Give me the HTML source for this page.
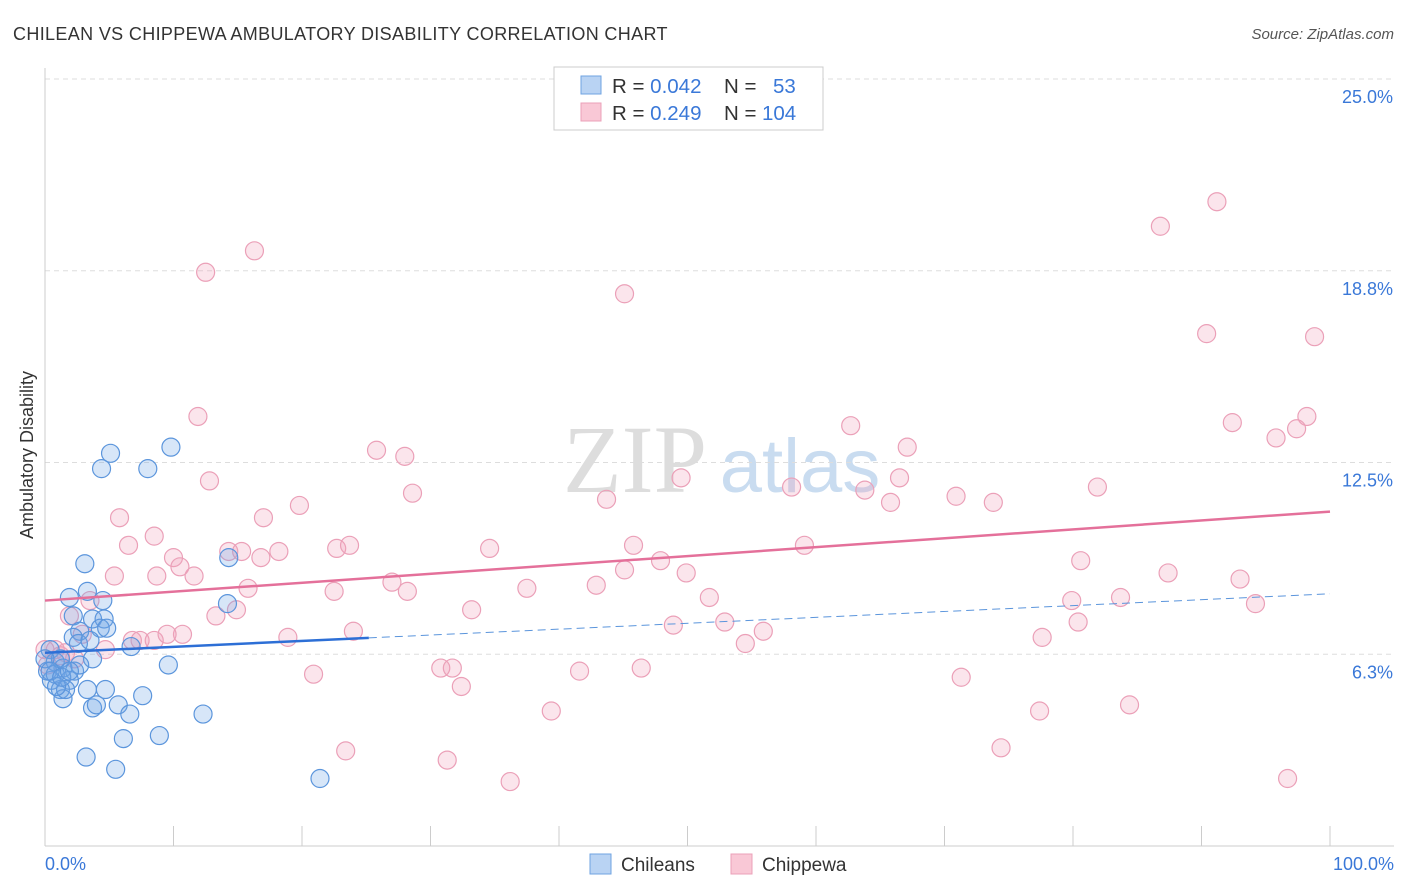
<!DOCTYPE html>
<html><head><meta charset="utf-8"><style>
body{margin:0;background:#fff;font-family:"Liberation Sans",sans-serif;}
svg{display:block}
</style></head><body>
<svg width="1406" height="892" xmlns="http://www.w3.org/2000/svg">
<text x="13" y="40" font-size="18" fill="#333" letter-spacing="0.35">CHILEAN VS CHIPPEWA AMBULATORY DISABILITY CORRELATION CHART</text>
<text x="1394" y="39" font-size="15" fill="#555" font-style="italic" text-anchor="end">Source: ZipAtlas.com</text>
<g>
<text x="635" y="492" font-size="96" font-family="Liberation Serif,serif" fill="#ddd" text-anchor="middle">ZIP</text>
<text x="800" y="492" font-size="76" fill="#c9dcf0" text-anchor="middle">atlas</text>
</g>
<g id="grid"></g>
<line x1="45" y1="68" x2="45" y2="846" stroke="#ccc"/>
<line x1="45" y1="846" x2="1394" y2="846" stroke="#ccc"/>
<g id="ticks"></g>
<text x="33" y="455" font-size="18" fill="#333" text-anchor="middle" transform="rotate(-90 33 455)">Ambulatory Disability</text>
<text x="45" y="870" font-size="18" fill="#3a78d8">0.0%</text>
<text x="1394" y="870" font-size="18" fill="#3a78d8" text-anchor="end">100.0%</text>
<g id="points"></g>
<g id="lines"></g>
<g>
<rect x="554" y="67" width="269" height="63" fill="#fff" stroke="#ccc"/>
<rect x="581" y="76" width="20" height="18" fill="#b9d3f3" stroke="#6fa3e2"/>
<rect x="581" y="103" width="20" height="18" fill="#f9c8d6" stroke="#eba0b8"/>
<text x="612" y="93" font-size="20.5" fill="#333">R = <tspan fill="#3a78d8">0.042</tspan><tspan x="724">N = </tspan><tspan x="773" fill="#3a78d8">53</tspan></text>
<text x="612" y="120" font-size="20.5" fill="#333">R = <tspan fill="#3a78d8">0.249</tspan><tspan x="724">N = </tspan><tspan x="762" fill="#3a78d8">104</tspan></text>
</g>
<g>
<rect x="590" y="854" width="21" height="20" fill="#b9d3f3" stroke="#6fa3e2"/>
<text x="621" y="871" font-size="19" fill="#333">Chileans</text>
<rect x="731" y="854" width="21" height="20" fill="#f9c8d6" stroke="#eba0b8"/>
<text x="762" y="871" font-size="19" fill="#333">Chippewa</text>
</g>
</svg>
<script>
const yTicks=[6.25,12.5,18.75,25];
const yTickLabels=["6.3%","12.5%","18.8%","25.0%"];
const xTicks=[0,10,20,30,40,50,60,70,80,90,100];
const blueX=[5.1,4.4,9.8,8.0,3.1,14.3,1.9,3.3,4.5,3.7,4.6,14.2,2.2,4.3,4.8,2.7,2.2,2.6,6.7,3.7,0.4,0.8,1.4,2.3,1.9,0.5,1.2,3.3,4.7,7.6,1.4,3.7,4.0,5.7,6.6,12.3,9.6,6.1,8.9,3.2,5.5,21.4,0.2,0.8,1.2,0.0,1.6,2.7,0.9,0.4,1.3,3.5,1.9];
const blueY=[12.8,12.3,13.0,12.3,9.2,9.4,8.1,8.3,8.0,7.4,7.4,7.9,7.5,7.1,7.1,7.0,6.8,6.6,6.5,6.1,6.4,6.0,5.8,5.7,5.4,5.4,5.1,5.1,5.1,4.9,4.8,4.5,4.6,4.6,4.3,4.3,5.9,3.5,3.6,2.9,2.5,2.2,5.7,5.6,6.1,6.1,5.1,5.9,5.2,5.7,5.5,6.7,5.7];
const pinkX=[16.3,12.5,45.1,86.8,91.2,90.4,98.8,11.9,92.4,98.2,97.4,95.8,62.7,67.1,25.8,28.0,12.8,28.6,19.8,17.0,5.8,43.7,49.5,58.1,63.8,65.8,66.5,70.9,73.8,81.9,8.5,6.5,10.0,14.3,15.3,16.8,18.2,22.7,23.7,34.6,45.8,59.1,80.6,10.5,8.7,11.6,5.4,27.0,15.8,28.2,22.5,37.5,42.9,45.1,47.9,49.9,51.7,87.4,93.0,94.2,83.7,79.9,3.5,33.2,1.9,13.3,14.9,52.9,48.9,80.4,2.9,6.8,7.4,8.5,10.7,9.5,24.0,18.9,55.9,54.5,77.6,4.7,0.8,0.0,1.2,30.8,31.7,20.9,41.6,46.4,32.4,71.3,39.4,77.4,84.4,23.4,31.3,36.2,74.4,96.7,0.2,1.6,2.3];
const pinkY=[19.4,18.7,18.0,20.2,21.0,16.7,16.6,14.0,13.8,14.0,13.6,13.3,13.7,13.0,12.9,12.7,11.9,11.5,11.1,10.7,10.7,11.3,12.0,11.7,11.6,11.2,12.0,11.4,11.2,11.7,10.1,9.8,9.4,9.6,9.6,9.4,9.6,9.7,9.8,9.7,9.8,9.8,9.3,9.1,8.8,8.8,8.8,8.6,8.4,8.3,8.3,8.4,8.5,9.0,9.3,8.9,8.1,8.9,8.7,7.9,8.1,8.0,8.0,7.7,7.5,7.5,7.7,7.3,7.2,7.3,6.9,6.7,6.7,6.7,6.9,6.9,7.0,6.8,7.0,6.6,6.8,6.4,6.4,6.4,6.2,5.8,5.8,5.6,5.7,5.8,5.2,5.5,4.4,4.4,4.6,3.1,2.8,2.1,3.2,2.2,5.9,6.3,6.1];
const blueTrend=[6.3,0.0192];
const pinkTrend=[8.0,0.029];
const NS='http://www.w3.org/2000/svg';
const X=v=>45+v*12.85, Y=v=>846-v*30.68;
function mk(t,a,p){const e=document.createElementNS(NS,t);for(const k in a)e.setAttribute(k,a[k]);p.appendChild(e);return e;}
const grid=document.getElementById('grid');
yTicks.forEach((t,i)=>{
 const l=mk('line',{x1:45,x2:1394,y1:Y(t),y2:Y(t),stroke:'#ddd','stroke-dasharray':'5,4'},grid);
 
 
 const tx=mk('text',{x:1393,y:Y(t)+24,'font-size':18,fill:'#3a78d8','text-anchor':'end'},grid);
 tx.textContent=yTickLabels[i];
 
 
});
const tk=document.getElementById('ticks');
xTicks.forEach(t=>{
 const l=mk('line',{x1:X(t),x2:X(t),y1:826,y2:846,stroke:'#ccc'},tk);
 
 
});
const pts=document.getElementById('points');
pinkX.forEach((x,i)=>{
 const c=mk('circle',{cx:X(x),cy:Y(pinkY[i]),r:9,fill:'rgba(242,160,188,0.28)',stroke:'#eba0b8','stroke-width':1.2},pts);
 
 
});
blueX.forEach((x,i)=>{
 const c=mk('circle',{cx:X(x),cy:Y(blueY[i]),r:9,fill:'rgba(110,165,230,0.28)',stroke:'#5b95dc','stroke-width':1.2},pts);
 
 
});
const ln=document.getElementById('lines');
let a=mk('line',{x1:X(0),y1:Y(pinkTrend[0]),x2:X(100),y2:Y(pinkTrend[0]+pinkTrend[1]*100),stroke:'#e4709a','stroke-width':2.5},ln);


let b=mk('line',{x1:X(0),y1:Y(blueTrend[0]),x2:X(25.2),y2:Y(blueTrend[0]+blueTrend[1]*25.2),stroke:'#2d6fd6','stroke-width':2.5},ln);


let d=mk('line',{x1:X(25.2),y1:Y(blueTrend[0]+blueTrend[1]*25.2),x2:X(100),y2:Y(blueTrend[0]+blueTrend[1]*100),stroke:'#5b95dc','stroke-width':1,'stroke-dasharray':'8,5'},ln);


</script>
</body></html>
